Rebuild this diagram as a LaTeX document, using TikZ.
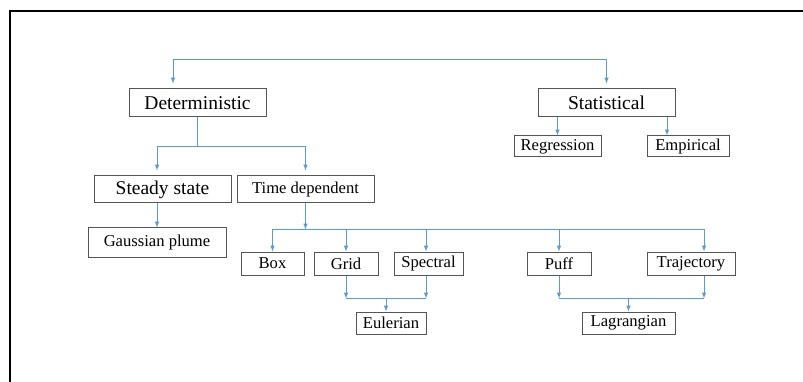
\documentclass[tikz,border=0pt]{standalone}
\usepackage{fontspec}
\setmainfont{Liberation Serif}
\newfontfamily\tnr{Liberation Serif}
\usetikzlibrary{arrows, positioning}
\definecolor{lblue}{HTML}{5B9BD5}
\definecolor{dgray}{HTML}{555555}
\tikzstyle{bigbox} = [rectangle, draw = dgray, line width = 1pt, minimum width = 137pt, minimum height = 28pt, inner sep = 0pt, text centered, font = \tnr\fontsize{19.5}{22}\selectfont]
\tikzstyle{smallbox} = [rectangle, draw = dgray, line width = 1pt, minimum height = 23pt, inner sep = 0pt, text centered, font = \tnr\fontsize{16.6}{19}\selectfont]
\tikzstyle{cable} = [line width = 1pt, draw = lblue, ->, >=latex]
\tikzstyle{wire} = [line width = 1pt, draw = lblue]

\begin{document}
\begin{tikzpicture}[x=1pt, y=-1pt]
  \useasboundingbox (0,0) rectangle (803,382);
  \draw [line width = 2pt] (10,11) rectangle (840,420);
  \node (det) [bigbox] at (197.5,103) {Deterministic};
  \node (stat) [bigbox] at (606.5,103) {Statistical};
  \node (reg) [smallbox, minimum width = 87pt, minimum height = 21pt] at (557.5,146.5) {Regression};
  \node (emp) [smallbox, minimum width = 82pt, minimum height = 21pt] at (688,146.5) {Empirical};
  \node (steady) [bigbox, minimum height = 27pt] at (162.5,189.5) {Steady state};
  \node (timedep) [bigbox, minimum height = 27pt, font = \tnr\fontsize{16.6}{19}\selectfont] at (305.5,189.5) {Time dependent};
  \node (gauss) [smallbox, minimum width = 138pt, minimum height = 29pt] at (157,242.5) {Gaussian plume};
  \node (box) [smallbox, minimum width = 63pt] at (272.5,263.5) {Box};
  \node (grid) [smallbox, minimum width = 64pt, right = 9pt of box] {Grid};
  \node (spectral) [smallbox, minimum width = 69pt] at (428.5,263.5) {Spectral};
  \node (puff) [smallbox, minimum width = 64pt] at (559,263.5) {Puff};
  \node (traj) [smallbox, minimum width = 88pt] at (691,263.5) {Trajectory};
  \node (euler) [smallbox, minimum width = 70pt, minimum height = 22pt] at (391,323) {Eulerian};
  \node (lagr) [smallbox, minimum width = 93pt, minimum height = 22pt] at (628.5,323) {Lagrangian};
  % top level
  \coordinate (top) at (390,60);
  \draw [cable, shorten >= 5pt] (top) -| ([xshift=-24.5pt]det.north);
  \draw [cable, shorten >= 5pt] (top) -| (stat.north);
  % deterministic branch
  \coordinate (detfork) at ([yshift=-29pt]det.south);
  \draw [wire] (det.south) -- (detfork);
  \draw [cable, shorten >= 5pt] (detfork) -| ([xshift=-5.5pt]steady.north);
  \draw [cable, shorten >= 5pt] (detfork) -| (timedep.north);
  \draw [cable] (gauss.north |- steady.south) -- (gauss.north);
  % statistical branch
  \draw [cable] (reg.north |- stat.south) -- (reg.north);
  \draw [cable] ([xshift=-21pt]emp.north |- stat.south) -- ([xshift=-21pt]emp.north);
  % time dependent branch
  \coordinate (tdfork) at ([yshift=-26pt]timedep.south);
  \draw [cable] (timedep.south) -- (tdfork);
  \draw [cable] (tdfork) -| (box.north);
  \draw [cable] (tdfork) -| (grid.north);
  \draw [cable] (tdfork) -| ([xshift=-2.5pt]spectral.north);
  \draw [cable] (tdfork) -| (puff.north);
  \draw [cable] (tdfork) -| ([xshift=13pt]traj.north);
  % eulerian
  \coordinate (eulfork) at ([xshift=-5pt, yshift=13pt]euler.north);
  \draw [cable] (grid.south) -- (grid.south |- eulfork);
  \draw [cable] ([xshift=-2.5pt]spectral.south) -- ([xshift=-2.5pt]spectral.south |- eulfork);
  \draw [wire] (grid.south |- eulfork) -- ([xshift=-2.5pt]spectral.south |- eulfork);
  \draw [cable] (eulfork) -- ([xshift=-5pt]euler.north);
  % lagrangian
  \coordinate (lagfork) at ([yshift=13pt]lagr.north);
  \draw [cable] (puff.south) -- (puff.south |- lagfork);
  \draw [cable] ([xshift=13pt]traj.south) -- ([xshift=13pt]traj.south |- lagfork);
  \draw [wire] (puff.south |- lagfork) -- ([xshift=13pt]traj.south |- lagfork);
  \draw [cable] (lagfork) -- (lagr.north);
\end{tikzpicture}
\end{document}
